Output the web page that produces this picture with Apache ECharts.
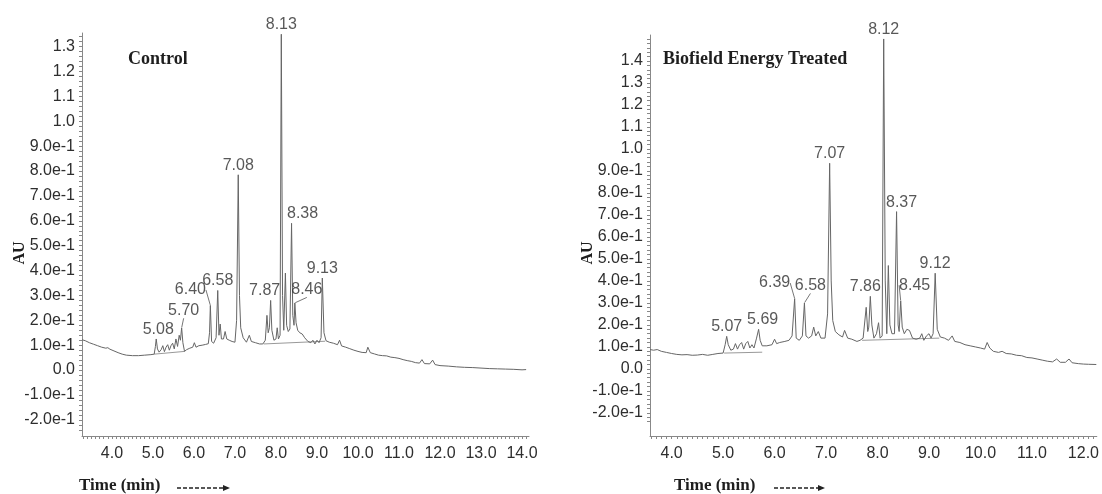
<!DOCTYPE html>
<html><head><meta charset="utf-8">
<script src="https://cdn.jsdelivr.net/npm/echarts@6/dist/echarts.min.js"></script>
<style>html,body{margin:0;padding:0;background:#fff}#c{width:1102px;height:494px}</style>
</head><body><div id="c"></div>
<script>
// ---------- DATA ----------
// Control chromatogram: [time (min), AU]
const controlTrace = [
[3.27,0.122],[3.35,0.118],[3.45,0.110],[3.55,0.104],[3.65,0.098],[3.75,0.092],[3.85,0.088],[3.90,0.090],[3.95,0.084],
[4.05,0.077],[4.15,0.070],[4.25,0.064],[4.35,0.060],[4.50,0.058],[4.65,0.058],[4.80,0.060],[4.95,0.062],[5.03,0.064],
[5.06,0.095],[5.08,0.125],[5.11,0.085],[5.15,0.072],[5.20,0.082],[5.24,0.098],[5.28,0.074],[5.32,0.092],[5.36,0.102],
[5.40,0.080],[5.44,0.098],[5.48,0.108],[5.52,0.085],[5.56,0.125],[5.60,0.095],[5.64,0.140],[5.67,0.120],[5.70,0.170],
[5.73,0.110],[5.77,0.075],[5.82,0.082],[5.90,0.088],[5.97,0.092],[6.01,0.110],[6.05,0.092],[6.12,0.098],[6.20,0.100],
[6.28,0.103],[6.35,0.106],[6.38,0.150],[6.40,0.260],[6.43,0.115],[6.48,0.108],[6.54,0.130],[6.58,0.320],[6.61,0.140],
[6.64,0.185],[6.67,0.125],[6.72,0.125],[6.76,0.155],[6.80,0.125],[6.86,0.120],[6.93,0.115],[7.00,0.112],[7.04,0.200],
[7.08,0.785],[7.11,0.300],[7.14,0.170],[7.20,0.130],[7.28,0.112],[7.35,0.140],[7.40,0.115],[7.50,0.110],[7.60,0.105],
[7.68,0.105],[7.74,0.120],[7.78,0.220],[7.81,0.150],[7.84,0.170],[7.87,0.280],[7.90,0.160],[7.95,0.120],[8.00,0.125],
[8.03,0.170],[8.06,0.125],[8.10,0.140],[8.13,1.350],[8.16,0.300],[8.19,0.160],[8.23,0.390],[8.26,0.180],[8.30,0.155],
[8.34,0.165],[8.38,0.590],[8.41,0.220],[8.44,0.180],[8.46,0.270],[8.49,0.190],[8.53,0.160],[8.58,0.150],[8.64,0.145],
[8.70,0.130],[8.78,0.115],[8.85,0.110],[8.90,0.120],[8.95,0.105],[9.00,0.120],[9.05,0.110],[9.10,0.130],[9.13,0.370],
[9.17,0.150],[9.22,0.118],[9.30,0.112],[9.40,0.108],[9.50,0.102],[9.55,0.120],[9.60,0.097],[9.70,0.092],[9.80,0.086],
[9.90,0.080],[10.00,0.075],[10.10,0.071],[10.20,0.070],[10.24,0.092],[10.30,0.070],[10.40,0.065],[10.50,0.060],
[10.60,0.058],[10.70,0.057],[10.80,0.052],[10.90,0.050],[11.00,0.047],[11.10,0.042],[11.20,0.038],[11.30,0.035],
[11.40,0.030],[11.50,0.028],[11.56,0.042],[11.62,0.026],[11.75,0.025],[11.82,0.040],[11.88,0.022],[12.00,0.018],
[12.20,0.016],[12.40,0.013],[12.60,0.011],[12.80,0.010],[13.00,0.008],[13.20,0.006],[13.40,0.005],[13.60,0.004],
[13.80,0.003],[14.00,0.001],[14.10,0.002]
];
// Biofield Energy Treated chromatogram: [time (min), AU]
const treatedTrace = [
[3.58,0.088],[3.65,0.085],[3.72,0.088],[3.80,0.080],[3.90,0.075],[4.00,0.070],[4.10,0.066],[4.20,0.064],[4.30,0.065],
[4.40,0.062],[4.50,0.063],[4.60,0.066],[4.70,0.062],[4.80,0.066],[4.90,0.070],[5.00,0.072],[5.04,0.110],[5.07,0.148],
[5.10,0.110],[5.15,0.085],[5.20,0.090],[5.24,0.115],[5.28,0.090],[5.32,0.110],[5.36,0.120],[5.40,0.090],[5.44,0.115],
[5.48,0.125],[5.52,0.095],[5.56,0.110],[5.60,0.095],[5.65,0.140],[5.69,0.180],[5.72,0.130],[5.76,0.105],[5.85,0.105],
[5.95,0.110],[6.00,0.135],[6.04,0.115],[6.10,0.120],[6.20,0.125],[6.28,0.130],[6.34,0.150],[6.39,0.320],[6.42,0.140],
[6.48,0.130],[6.54,0.150],[6.58,0.300],[6.61,0.150],[6.66,0.140],[6.72,0.150],[6.76,0.190],[6.80,0.150],[6.85,0.170],
[6.90,0.140],[6.98,0.140],[7.03,0.250],[7.07,0.935],[7.10,0.400],[7.13,0.220],[7.18,0.170],[7.25,0.155],[7.32,0.145],
[7.36,0.175],[7.42,0.140],[7.50,0.135],[7.60,0.125],[7.66,0.130],[7.72,0.140],[7.78,0.280],[7.81,0.170],[7.83,0.190],
[7.86,0.330],[7.89,0.200],[7.93,0.140],[7.98,0.160],[8.02,0.210],[8.05,0.140],[8.09,0.150],[8.12,1.500],[8.15,0.400],
[8.18,0.160],[8.21,0.470],[8.24,0.200],[8.28,0.160],[8.33,0.160],[8.37,0.715],[8.40,0.200],[8.42,0.170],[8.45,0.310],
[8.48,0.190],[8.52,0.160],[8.57,0.180],[8.62,0.175],[8.68,0.140],[8.75,0.135],[8.82,0.140],[8.86,0.160],[8.90,0.130],
[8.95,0.150],[9.00,0.160],[9.04,0.140],[9.08,0.160],[9.12,0.435],[9.16,0.180],[9.22,0.145],[9.30,0.140],[9.38,0.130],
[9.45,0.150],[9.50,0.125],[9.60,0.120],[9.70,0.110],[9.80,0.105],[9.90,0.100],[10.00,0.095],[10.08,0.090],[10.13,0.120],
[10.18,0.095],[10.25,0.080],[10.35,0.075],[10.42,0.080],[10.50,0.070],[10.60,0.068],[10.70,0.062],[10.80,0.060],
[10.90,0.052],[11.00,0.050],[11.10,0.045],[11.20,0.040],[11.30,0.035],[11.40,0.032],[11.48,0.045],[11.55,0.030],
[11.65,0.030],[11.72,0.045],[11.78,0.028],[11.90,0.024],[12.00,0.022],[12.10,0.021],[12.25,0.020]
];
// integration baselines drawn under peak clusters: [t1, v1, t2, v2]
const controlBaselines = [[5.03,0.064,5.77,0.075],[7.70,0.105,9.20,0.116]];
const treatedBaselines = [[5.02,0.072,5.76,0.076],[7.70,0.130,9.20,0.140]];
// labelled peaks (retention times)
const controlPeaks = ['5.08','5.70','6.40','6.58','7.08','7.87','8.13','8.38','8.46','9.13'];
const treatedPeaks = ['5.07','5.69','6.39','6.58','7.07','7.86','8.12','8.37','8.45','9.12'];
// axis ticks
const controlYTicks = [-0.2,-0.1,0,0.1,0.2,0.3,0.4,0.5,0.6,0.7,0.8,0.9,1.0,1.1,1.2,1.3];
const controlYLabels = ['-2.0e-1','-1.0e-1','0.0','1.0e-1','2.0e-1','3.0e-1','4.0e-1','5.0e-1','6.0e-1','7.0e-1','8.0e-1','9.0e-1','1.0','1.1','1.2','1.3'];
const treatedYTicks = [-0.2,-0.1,0,0.1,0.2,0.3,0.4,0.5,0.6,0.7,0.8,0.9,1.0,1.1,1.2,1.3,1.4];
const treatedYLabels = ['-2.0e-1','-1.0e-1','0.0','1.0e-1','2.0e-1','3.0e-1','4.0e-1','5.0e-1','6.0e-1','7.0e-1','8.0e-1','9.0e-1','1.0','1.1','1.2','1.3','1.4'];
const controlXTicks = [4,5,6,7,8,9,10,11,12,13,14];
const treatedXTicks = [4,5,6,7,8,9,10,11,12];

// ---------- STYLE ----------
const SANS = "'Liberation Sans', Arial, sans-serif";
const SERIF = "'Liberation Serif', 'Times New Roman', serif";
const TRACE = '#666';
const AXIS = '#888';
const TXT = '#2e2e2e';
// label shifts [dx, dy, leader]
const controlShift = {'5.08':[2,0,0],'5.70':[2,-8,1],'6.40':[-20,-6,1],'7.87':[-6,0,0],'8.38':[11,0,0],'8.46':[12,-4,1]};
const treatedShift = {'5.69':[4,0,0],'6.39':[-20,-6,1],'6.58':[6,-8,1],'7.86':[-5,0,0],'8.37':[5,0,0],'8.45':[14,-6,1]};

function minorTicks(a, b, step) {
  const out = []; const n = Math.round((b - a) / step);
  for (let i = 0; i <= n; i++) out.push(Math.round((a + i * step) * 1000) / 1000);
  return out;
}
function yFmt(ticks, labels) {
  return v => { const i = ticks.findIndex(t => Math.abs(t - v) < 1e-6); return i >= 0 ? labels[i] : ''; };
}
function xAxisOpt(idx, min, max, ticks) {
  return {
    type: 'value', gridIndex: idx, min, max,
    axisLine: { show: true, onZero: false, lineStyle: { color: AXIS, width: 1 } },
    axisTick: { show: true, length: 3, customValues: minorTicks(Math.ceil(min * 10) / 10, Math.floor(max * 10) / 10, 0.1), lineStyle: { color: AXIS } },
    axisLabel: { customValues: ticks, formatter: v => v.toFixed(1), fontFamily: SANS, fontSize: 16, color: TXT, margin: 10 },
    splitLine: { show: false }
  };
}
function yAxisOpt(idx, min, max, ticks, labels) {
  return {
    type: 'value', gridIndex: idx, min, max,
    axisLine: { show: true, onZero: false, lineStyle: { color: AXIS, width: 1 } },
    axisTick: { show: true, length: 3, customValues: minorTicks(-0.24, Math.floor(max * 50) / 50, 0.02), lineStyle: { color: AXIS } },
    axisLabel: { customValues: ticks, formatter: yFmt(ticks, labels), fontFamily: SANS, fontSize: 16, color: TXT, margin: 7 },
    splitLine: { show: false }
  };
}
function traceSeries(idx, trace) {
  return { type: 'line', xAxisIndex: idx, yAxisIndex: idx, data: trace, showSymbol: false, symbol: 'none',
    lineStyle: { color: TRACE, width: 1 }, silent: true, z: 3 };
}
function baselineSeries(idx, segs) {
  const d = [];
  segs.forEach(s => { d.push([s[0], s[1]]); d.push([s[2], s[3]]); d.push(null); });
  return { type: 'line', xAxisIndex: idx, yAxisIndex: idx, data: d, connectNulls: false, showSymbol: false, symbol: 'none',
    lineStyle: { color: '#999', width: 1 }, silent: true, z: 2 };
}
function peakSeries(idx, trace, peaks, shift) {
  const data = peaks.map(p => {
    const t = parseFloat(p);
    const pt = trace.find(q => Math.abs(q[0] - t) < 1e-6);
    const s = shift[p];
    return { value: [t, pt[1]], name: p, labelLine: { show: !!(s && s[2]) } };
  });
  return {
    type: 'scatter', xAxisIndex: idx, yAxisIndex: idx, data, symbolSize: 1,
    itemStyle: { color: 'rgba(0,0,0,0)' }, silent: true, z: 5,
    label: { show: true, position: 'top', distance: 1, formatter: p => p.name, fontFamily: SANS, fontSize: 16, color: TXT },
    labelLine: { lineStyle: { color: '#777', width: 1 } },
    labelLayout: p => { const s = shift[peaks[p.dataIndex]]; return s ? { dx: s[0], dy: s[1] } : {}; }
  };
}

const chart = echarts.init(document.getElementById('c'), null, { renderer: 'canvas' });
chart.setOption({
  animation: false,
  backgroundColor: '#fff',
  grid: [
    { left: 82, top: 33, width: 447, height: 403 },
    { left: 650, top: 35, width: 452, height: 401 }
  ],
  xAxis: [xAxisOpt(0, 3.27, 14.17, controlXTicks), xAxisOpt(1, 3.58, 12.26, treatedXTicks)],
  yAxis: [yAxisOpt(0, -0.265, 1.355, controlYTicks, controlYLabels), yAxisOpt(1, -0.305, 1.518, treatedYTicks, treatedYLabels)],
  series: [
    traceSeries(0, controlTrace), baselineSeries(0, controlBaselines), peakSeries(0, controlTrace, controlPeaks, controlShift),
    traceSeries(1, treatedTrace), baselineSeries(1, treatedBaselines), peakSeries(1, treatedTrace, treatedPeaks, treatedShift)
  ],
  graphic: [
    { type: 'text', left: 128, top: 50, style: { text: 'Control', font: "bold 18px " + SERIF, fill: '#1e1e1e' } },
    { type: 'text', left: 663, top: 50, style: { text: 'Biofield Energy Treated', font: "bold 18px " + SERIF, fill: '#1e1e1e' } },
    { type: 'text', x: 20, y: 253, rotation: Math.PI / 2, style: { text: 'AU', font: "bold 16px " + SERIF, fill: '#1e1e1e', align: 'center', verticalAlign: 'middle' } },
    { type: 'text', x: 588, y: 253, rotation: Math.PI / 2, style: { text: 'AU', font: "bold 16px " + SERIF, fill: '#1e1e1e', align: 'center', verticalAlign: 'middle' } },
    { type: 'text', left: 79, top: 477, style: { text: 'Time (min)', font: "bold 17px " + SERIF, fill: '#1e1e1e' } },
    { type: 'text', left: 674, top: 477, style: { text: 'Time (min)', font: "bold 17px " + SERIF, fill: '#1e1e1e' } },
    { type: 'line', shape: { x1: 177, y1: 488, x2: 224, y2: 488 }, style: { stroke: '#222', lineWidth: 1.3, lineDash: [4, 2] } },
    { type: 'polygon', shape: { points: [[223, 485], [230, 488], [223, 491]] }, style: { fill: '#222' } },
    { type: 'line', shape: { x1: 774, y1: 488, x2: 819, y2: 488 }, style: { stroke: '#222', lineWidth: 1.3, lineDash: [4, 2] } },
    { type: 'polygon', shape: { points: [[818, 485], [825, 488], [818, 491]] }, style: { fill: '#222' } }
  ]
});
</script></body></html>
